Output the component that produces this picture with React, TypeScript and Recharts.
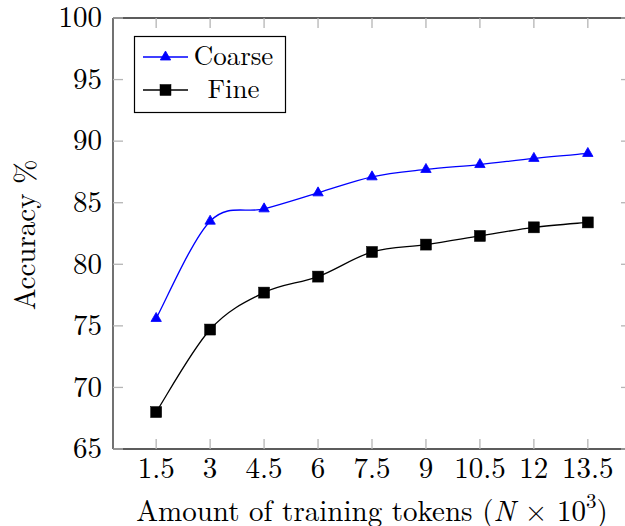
import React from 'react';
import { LineChart, Line, XAxis, YAxis, Label } from 'recharts';

const X_VALUES = [1.5, 3, 4.5, 6, 7.5, 9, 10.5, 12, 13.5];
const COARSE = [75.6, 83.5, 84.5, 85.8, 87.1, 87.7, 88.1, 88.6, 89.0];
const FINE = [68.0, 74.7, 77.7, 79.0, 81.0, 81.6, 82.3, 83.0, 83.4];
const X_TICKS = [1.5, 3, 4.5, 6, 7.5, 9, 10.5, 12, 13.5];
const Y_TICKS = [65, 70, 75, 80, 85, 90, 95, 100];
const X_DOMAIN = [0.3, 14.7];
const Y_DOMAIN = [65, 100];
const SERIES = [
  { key: 'coarse', name: 'Coarse', color: '#0000ff', marker: 'triangle' },
  { key: 'fine', name: 'Fine', color: '#000000', marker: 'square' },
];
const Y_LABEL = 'Accuracy %';

const data = X_VALUES.map((x, i) => ({ x, coarse: COARSE[i], fine: FINE[i] }));

const FONT = 'Latin Modern Roman, Liberation Serif, serif';
const AXIS = '#262626';
const TICK = '#b5b5b5';
const FS = 29;
const TXT = { fontFamily: FONT, fontSize: FS };
const LEGEND_TXT = { fontFamily: FONT, fontSize: 27 };

// Catmull-Rom-like smooth curve (similar to TikZ "smooth")
const smoothCurve = (context: any) => {
  let pts: number[][] = [];
  return {
    areaStart() {},
    areaEnd() {},
    lineStart() {
      pts = [];
    },
    point(x: number, y: number) {
      pts.push([+x, +y]);
    },
    lineEnd() {
      const n = pts.length;
      if (!n) return;
      const k = 1 / 6;
      context.moveTo(pts[0][0], pts[0][1]);
      for (let i = 0; i < n - 1; i++) {
        const p0 = pts[Math.max(i - 1, 0)];
        const p1 = pts[i];
        const p2 = pts[i + 1];
        const p3 = pts[Math.min(i + 2, n - 1)];
        context.bezierCurveTo(
          p1[0] + k * (p2[0] - p0[0]),
          p1[1] + k * (p2[1] - p0[1]),
          p2[0] - k * (p3[0] - p1[0]),
          p2[1] - k * (p3[1] - p1[1]),
          p2[0],
          p2[1]
        );
      }
    },
  };
};

const Marker = ({ cx, cy, type, color }: any) => {
  if (type === 'triangle') {
    const r = 6;
    return (
      <path
        d={`M${cx},${cy - r} L${cx + r * 0.866},${cy + r * 0.5} L${cx - r * 0.866},${cy + r * 0.5} Z`}
        fill={color}
        stroke={color}
        strokeWidth={0.8}
      />
    );
  }
  const s = 11;
  return <rect x={cx - s / 2} y={cy - s / 2} width={s} height={s} fill={color} stroke={color} strokeWidth={0.5} />;
};

const EmptyTick = () => <g />;

const XTick = (props: any) => {
  const { x, y, payload } = props;
  return (
    <text x={x} y={y + 28.5} textAnchor="middle" style={TXT} fill="#000">
      {String(payload.value)}
    </text>
  );
};

const YTick = (props: any) => {
  const { x, y, payload } = props;
  return (
    <text x={x} y={y + 9.3} textAnchor="end" style={TXT} fill="#000">
      {String(payload.value)}
    </text>
  );
};

const XLabel = (props: any) => {
  const vb = props.viewBox || { x: 0, y: 0, width: 0, height: 0 };
  const cx = vb.x + vb.width / 2;
  return (
    <text x={cx} y={vb.y + 72} textAnchor="middle" style={TXT} fill="#000">
      Amount of training tokens (<tspan fontStyle="italic">N</tspan> × 10
      <tspan style={{ fontSize: 21 }} dy={-13}>3</tspan>
      <tspan dy={13}>)</tspan>
    </text>
  );
};

const YLabel = (props: any) => {
  const vb = props.viewBox || { x: 0, y: 0, width: 0, height: 0 };
  const cy = vb.y + vb.height / 2 + 1.5;
  const bx = 35;
  return (
    <text
      transform={`translate(${bx}, ${cy}) rotate(-90)`}
      textAnchor="middle"
      style={TXT}
      fill="#000"
    >
      {Y_LABEL}
    </text>
  );
};

const LegendBox = () => (
  <svg
    width={625}
    height={526}
    style={{ position: 'absolute', left: 0, top: 0, pointerEvents: 'none' }}
  >
    <rect x={134.5} y={36.5} width={151} height={76} fill="#fff" stroke="#000" strokeWidth={1.2} />
    {SERIES.map((s, i) => {
      const cy = 57 + i * 33;
      return (
        <g key={s.key}>
          <line x1={143} x2={188} y1={cy} y2={cy} stroke={s.color} strokeWidth={1.3} />
          <Marker cx={165.5} cy={cy} type={s.marker} color={s.color} />
          <text x={233.5} y={cy + 8} textAnchor="middle" style={LEGEND_TXT} fill="#000">
            {s.name}
          </text>
        </g>
      );
    })}
  </svg>
);

export default function App() {
  return (
    <div
      style={{
        position: 'fixed',
        left: 0,
        top: 0,
        width: 625,
        height: 526,
        overflow: 'hidden',
        background: '#fff',
        fontFamily: FONT,
      }}
    >
      <LineChart
        width={640}
        height={526}
        data={data}
        margin={{ top: 18, right: 9, bottom: 0, left: 0 }}
      >
        <XAxis
          dataKey="x"
          type="number"
          domain={X_DOMAIN}
          ticks={X_TICKS}
          interval={0}
          allowDataOverflow
          height={77}
          tickSize={0}
          tickMargin={0}
          tickLine={false}
          axisLine={{ stroke: AXIS, strokeWidth: 1.3 }}
          tick={<XTick />}
          label={<Label content={<XLabel />} />}
        />
        <XAxis
          xAxisId="b2"
          dataKey="x"
          type="number"
          orientation="bottom"
          mirror
          domain={X_DOMAIN}
          ticks={X_TICKS}
          interval={0}
          allowDataOverflow
          tick={<EmptyTick />}
          tickSize={10}
          tickLine={{ stroke: TICK, strokeWidth: 1.3 }}
          axisLine={false}
        />
        <XAxis
          xAxisId="top"
          dataKey="x"
          type="number"
          orientation="top"
          mirror
          domain={X_DOMAIN}
          ticks={X_TICKS}
          interval={0}
          allowDataOverflow
          tick={<EmptyTick />}
          tickSize={10}
          tickLine={{ stroke: TICK, strokeWidth: 1.3 }}
          axisLine={{ stroke: AXIS, strokeWidth: 1.3 }}
        />
        <YAxis
          type="number"
          domain={Y_DOMAIN}
          ticks={Y_TICKS}
          interval={0}
          allowDataOverflow
          width={113}
          tickSize={0}
          tickMargin={11}
          tickLine={false}
          axisLine={{ stroke: AXIS, strokeWidth: 1.3 }}
          tick={<YTick />}
          label={<Label content={<YLabel />} />}
        />
        <YAxis
          yAxisId="l2"
          type="number"
          orientation="left"
          mirror
          domain={Y_DOMAIN}
          ticks={Y_TICKS}
          interval={0}
          allowDataOverflow
          tick={<EmptyTick />}
          tickSize={10}
          tickLine={{ stroke: TICK, strokeWidth: 1.3 }}
          axisLine={false}
        />
        <YAxis
          yAxisId="r"
          type="number"
          orientation="right"
          mirror
          width={1}
          domain={Y_DOMAIN}
          ticks={Y_TICKS}
          interval={0}
          allowDataOverflow
          tick={<EmptyTick />}
          tickSize={10}
          tickLine={{ stroke: TICK, strokeWidth: 1.3 }}
          axisLine={{ stroke: AXIS, strokeWidth: 1.3 }}
        />
        {SERIES.map((s) => (
          <Line
            key={s.key}
            dataKey={s.key}
            name={s.name}
            type={smoothCurve as any}
            stroke={s.color}
            strokeWidth={1.3}
            isAnimationActive={false}
            dot={(p: any) => <Marker key={`${s.key}-${p.index}`} cx={p.cx} cy={p.cy} type={s.marker} color={s.color} />}
            activeDot={false}
          />
        ))}
      </LineChart>
      <LegendBox />
    </div>
  );
}
